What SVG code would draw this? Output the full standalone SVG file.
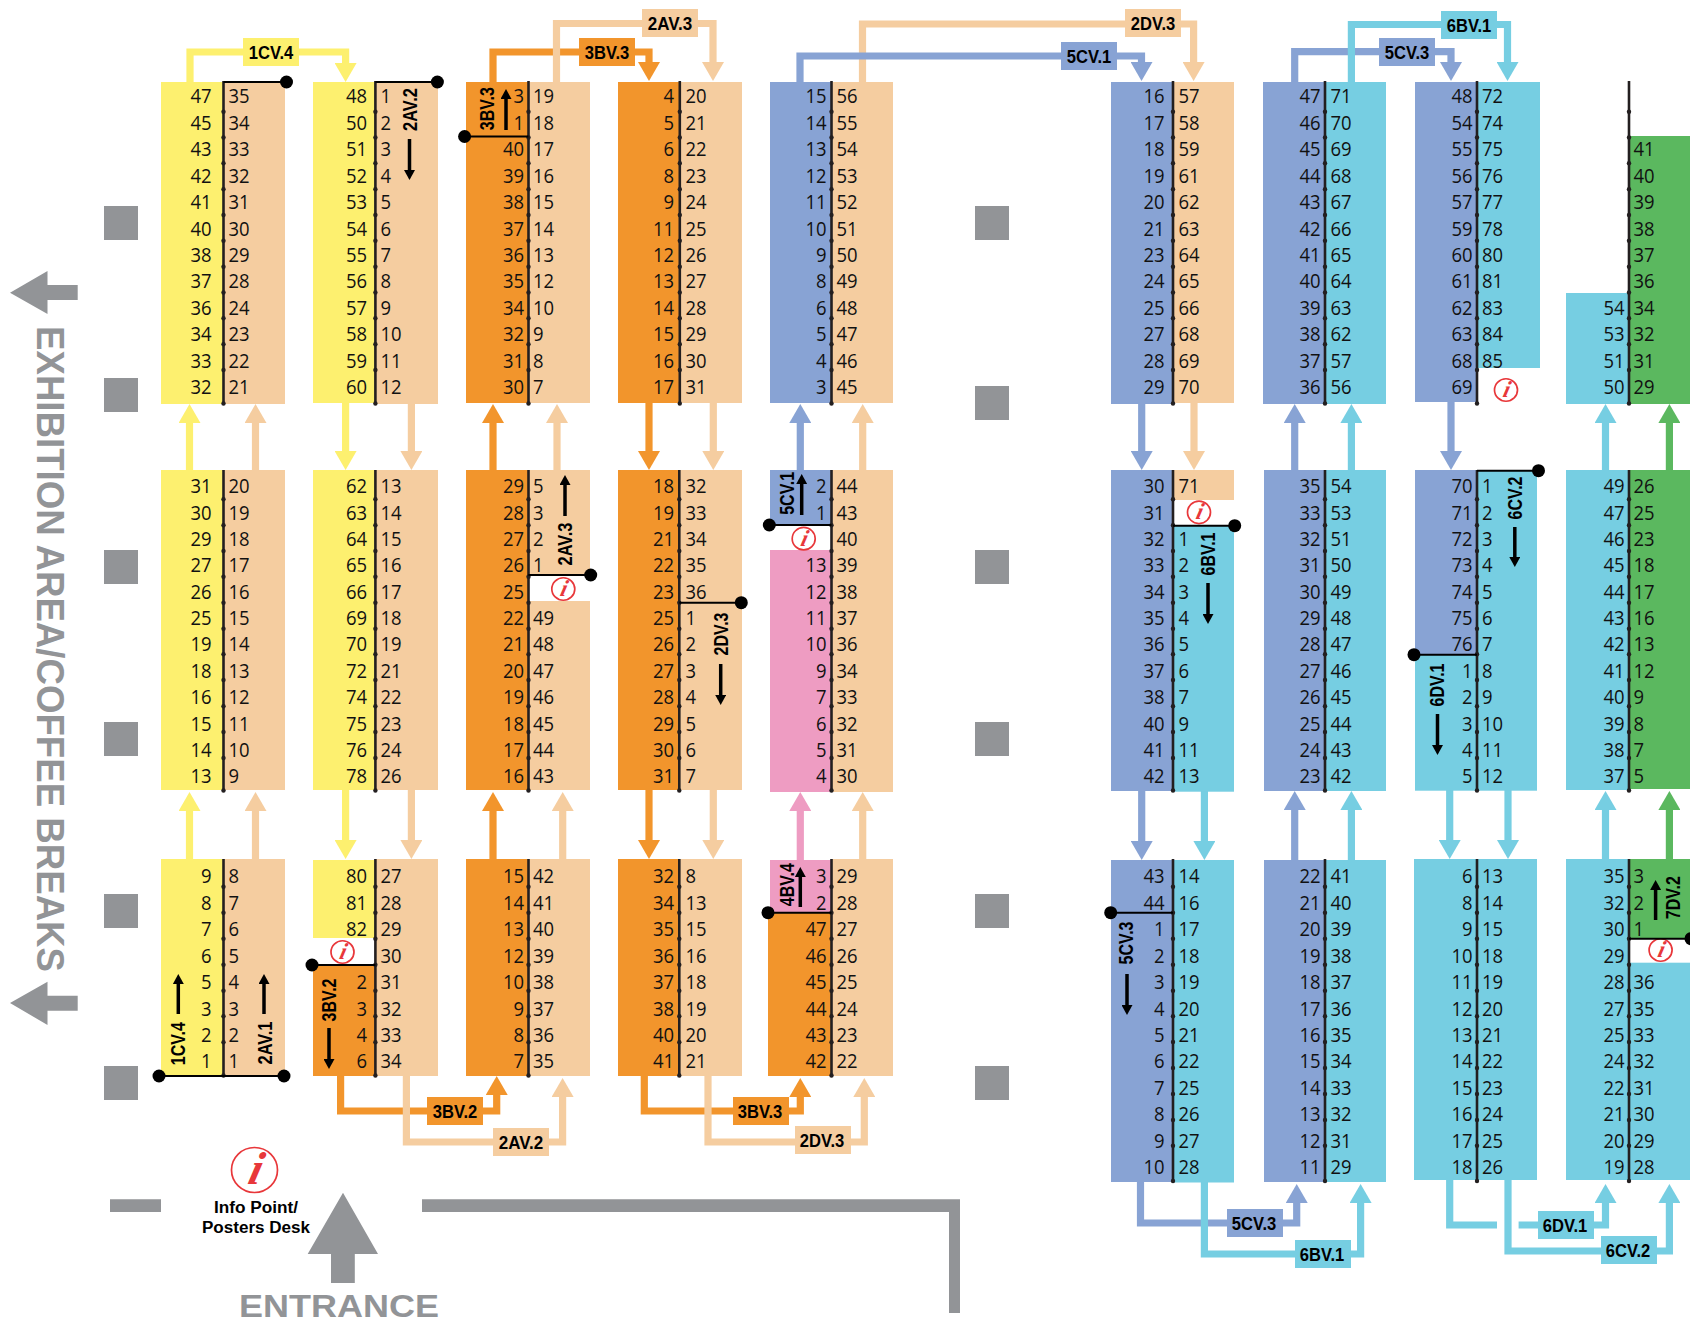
<svg xmlns="http://www.w3.org/2000/svg" width="1690" height="1324" viewBox="0 0 1690 1324">
<style>
.y{fill:#fdf06f}.p{fill:#f5cda0}.o{fill:#f2952c}.b{fill:#88a3d4}.c{fill:#76cee2}.g{fill:#5bb85f}.k{fill:#ee9cc2}.w{fill:#929497}
.ly,.lp,.lo,.lb,.lc,.lg,.lk{fill:none;stroke-width:7.2}
.ly{stroke:#fdf06f}.lp{stroke:#f5cda0}.lo{stroke:#f2952c}.lb{stroke:#88a3d4}.lc{stroke:#76cee2}.lg{stroke:#5bb85f}.lk{stroke:#ee9cc2}
.d{stroke:#231f20;stroke-width:2.6;fill:none}
.tk{fill:#231f20}
.h{stroke:#000;stroke-width:2;fill:none}
.ba{stroke:#000;stroke-width:3.5;fill:none;marker-end:url(#ma)}
.l text,.r text{font-family:"Open Sans","Noto Sans",sans-serif;font-size:20.5px;fill:#111}
.l text{text-anchor:end}
.bt{font-family:"Liberation Sans",Arial,sans-serif;font-weight:700;font-size:18.5px;fill:#000;text-anchor:middle}
.rt{font-family:"Liberation Sans",Arial,sans-serif;font-weight:700;font-size:20.5px;fill:#000;text-anchor:middle}
.ring{fill:#fff;stroke:#e8373a;stroke-width:1.7;vector-effect:non-scaling-stroke}
.ii{font-family:"Liberation Serif",serif;font-weight:700;font-style:italic;font-size:46px;fill:#e8373a;text-anchor:middle}
</style>
<defs>
<marker id="my" markerUnits="userSpaceOnUse" markerWidth="20" markerHeight="22" refX="0" refY="11" orient="auto"><path d="M0 0L19 11L0 22z" class="y"/></marker>
<marker id="mp" markerUnits="userSpaceOnUse" markerWidth="20" markerHeight="22" refX="0" refY="11" orient="auto"><path d="M0 0L19 11L0 22z" class="p"/></marker>
<marker id="mo" markerUnits="userSpaceOnUse" markerWidth="20" markerHeight="22" refX="0" refY="11" orient="auto"><path d="M0 0L19 11L0 22z" class="o"/></marker>
<marker id="mb" markerUnits="userSpaceOnUse" markerWidth="20" markerHeight="22" refX="0" refY="11" orient="auto"><path d="M0 0L19 11L0 22z" class="b"/></marker>
<marker id="mc" markerUnits="userSpaceOnUse" markerWidth="20" markerHeight="22" refX="0" refY="11" orient="auto"><path d="M0 0L19 11L0 22z" class="c"/></marker>
<marker id="mg" markerUnits="userSpaceOnUse" markerWidth="20" markerHeight="22" refX="0" refY="11" orient="auto"><path d="M0 0L19 11L0 22z" class="g"/></marker>
<marker id="mk" markerUnits="userSpaceOnUse" markerWidth="20" markerHeight="22" refX="0" refY="11" orient="auto"><path d="M0 0L19 11L0 22z" class="k"/></marker>
<marker id="ma" markerUnits="userSpaceOnUse" markerWidth="11" markerHeight="11" refX="0" refY="5.5" orient="auto"><path d="M0 0L10 5.5L0 11z"/></marker>
<g id="tT" class="tk"><circle cy="111.7" r="2.2"/><circle cy="137.5" r="2.2"/><circle cy="163.3" r="2.2"/><circle cy="189.2" r="2.2"/><circle cy="215" r="2.2"/><circle cy="240.8" r="2.2"/><circle cy="266.7" r="2.2"/><circle cy="292.5" r="2.2"/><circle cy="318.3" r="2.2"/><circle cy="344.2" r="2.2"/><circle cy="370" r="2.2"/><circle cy="403.5" r="2.2"/></g>
<g id="tM" class="tk"><circle cy="499.3" r="2.2"/><circle cy="525.3" r="2.2"/><circle cy="551" r="2.2"/><circle cy="576.7" r="2.2"/><circle cy="602.7" r="2.2"/><circle cy="628.7" r="2.2"/><circle cy="654.3" r="2.2"/><circle cy="680" r="2.2"/><circle cy="706.3" r="2.2"/><circle cy="732" r="2.2"/><circle cy="758" r="2.2"/><circle cy="790.5" r="2.2"/></g>
<g id="tB" class="tk"><circle cy="886.7" r="2.2"/><circle cy="912.7" r="2.2"/><circle cy="938.7" r="2.2"/><circle cy="964.7" r="2.2"/><circle cy="990.7" r="2.2"/><circle cy="1016.3" r="2.2"/><circle cy="1042.3" r="2.2"/><circle cy="1075.5" r="2.2"/></g>
<g id="tL" class="tk"><circle cy="886.7" r="2.2"/><circle cy="912.7" r="2.2"/><circle cy="938.7" r="2.2"/><circle cy="964.7" r="2.2"/><circle cy="990.7" r="2.2"/><circle cy="1016.3" r="2.2"/><circle cy="1042" r="2.2"/><circle cy="1068" r="2.2"/><circle cy="1094" r="2.2"/><circle cy="1120" r="2.2"/><circle cy="1145.7" r="2.2"/><circle cy="1181" r="2.2"/></g>
<g id="info"><ellipse class="ring" rx="23" ry="22.5"/><text class="ii" transform="skewX(-14)" x="2" y="14">i</text></g>
</defs>
<rect width="1690" height="1324" fill="#fff"/>

<g id="site">
<path class="w" d="M104 206h34v34h-34zM104 378h34v34h-34zM104 550h34v34h-34zM104 722h34v34h-34zM104 894h34v34h-34zM104 1066h34v34h-34z"/>
<path class="w" d="M975 206h34v34h-34zM975 386h34v34h-34zM975 550h34v34h-34zM975 722h34v34h-34zM975 894h34v34h-34zM975 1066h34v34h-34z"/>
<path class="w" d="M10 292.7L47.5 271V285H77.7V300H47.5V314zM10 1003L47.5 981.7V995.7H77.7V1010.7H47.5V1025z"/>
<path class="w" d="M343 1192.7L378 1254H354.8V1283H331V1254H307.7z"/>
<path class="w" d="M110 1199.3H161V1212H110zM422 1199.3H960V1313H949V1212H422z"/>
<text transform="translate(37,326) rotate(90)" textLength="646" lengthAdjust="spacingAndGlyphs" font-family="Liberation Sans, Arial, sans-serif" font-weight="700" font-size="38" fill="#929497">EXHIBITION AREA/COFFEE BREAKS</text>
<text x="239" y="1317" textLength="200" lengthAdjust="spacingAndGlyphs" font-family="Liberation Sans, Arial, sans-serif" font-weight="700" font-size="31" fill="#929497">ENTRANCE</text>
<use href="#info" x="254.5" y="1170"/>
<text x="256" y="1213" text-anchor="middle" textLength="84" lengthAdjust="spacingAndGlyphs" font-family="Liberation Sans, Arial, sans-serif" font-weight="700" font-size="16" fill="#000">Info Point/</text>
<text x="256" y="1233" text-anchor="middle" textLength="108" lengthAdjust="spacingAndGlyphs" font-family="Liberation Sans, Arial, sans-serif" font-weight="700" font-size="16" fill="#000">Posters Desk</text>
</g>

<g id="connectors">
<path class="ly" d="M190 82V52H345.6V63" marker-end="url(#my)"/>
<path class="lo" d="M493 82V52H649V62" marker-end="url(#mo)"/>
<path class="lp" d="M556.5 82V23.5H713V62" marker-end="url(#mp)"/>
<path class="lp" d="M862.5 82V24H1193.6V62" marker-end="url(#mp)"/>
<path class="lb" d="M800 82V56H1141.5V62" marker-end="url(#mb)"/>
<path class="lb" d="M1294.7 82V51.7H1451V62" marker-end="url(#mb)"/>
<path class="lc" d="M1351.4 82V24.5H1507.5V62" marker-end="url(#mc)"/>

<path class="ly" d="M189.5 470V423" marker-end="url(#my)"/><path class="lp" d="M255.5 470V423" marker-end="url(#mp)"/>
<path class="ly" d="M189.5 859V811" marker-end="url(#my)"/><path class="lp" d="M255.5 859V811" marker-end="url(#mp)"/>
<path class="ly" d="M345.6 403V451" marker-end="url(#my)"/><path class="lp" d="M411.4 403V451" marker-end="url(#mp)"/>
<path class="ly" d="M345.6 790V840" marker-end="url(#my)"/><path class="lp" d="M411.4 790V840" marker-end="url(#mp)"/>
<path class="lo" d="M493 470V423" marker-end="url(#mo)"/><path class="lp" d="M557 470V423" marker-end="url(#mp)"/>
<path class="lo" d="M493 859V811" marker-end="url(#mo)"/><path class="lp" d="M562.7 859V811" marker-end="url(#mp)"/>
<path class="lo" d="M649 403V451" marker-end="url(#mo)"/><path class="lp" d="M713.3 403V451" marker-end="url(#mp)"/>
<path class="lo" d="M649 790V840" marker-end="url(#mo)"/><path class="lp" d="M713.3 790V840" marker-end="url(#mp)"/>
<path class="lb" d="M800.3 470V423" marker-end="url(#mb)"/><path class="lp" d="M862.7 470V423" marker-end="url(#mp)"/>
<path class="lk" d="M800.3 860V811" marker-end="url(#mk)"/><path class="lp" d="M862.7 860V811" marker-end="url(#mp)"/>
<path class="lb" d="M1141.7 403V451" marker-end="url(#mb)"/><path class="lp" d="M1194 403V451" marker-end="url(#mp)"/>
<path class="lb" d="M1141.7 790V841" marker-end="url(#mb)"/><path class="lc" d="M1204.4 790V841" marker-end="url(#mc)"/>
<path class="lb" d="M1294.7 470V423" marker-end="url(#mb)"/><path class="lc" d="M1351.4 470V423" marker-end="url(#mc)"/>
<path class="lb" d="M1294.7 860V810" marker-end="url(#mb)"/><path class="lc" d="M1351.4 860V810" marker-end="url(#mc)"/>
<path class="lb" d="M1451 401V451" marker-end="url(#mb)"/>
<path class="lc" d="M1449.7 790V840" marker-end="url(#mc)"/><path class="lc" d="M1508 790V840" marker-end="url(#mc)"/>
<path class="lc" d="M1605.5 470V423" marker-end="url(#mc)"/><path class="lg" d="M1669.4 470V423" marker-end="url(#mg)"/>
<path class="lc" d="M1605.5 859V810" marker-end="url(#mc)"/><path class="lg" d="M1669.4 859V810" marker-end="url(#mg)"/>

<path class="lo" d="M340.6 1076V1111H496.7V1095" marker-end="url(#mo)"/>
<path class="lp" d="M406.4 1076V1142H562.6V1097" marker-end="url(#mp)"/>
<path class="lo" d="M644.3 1076V1111H800.3V1097" marker-end="url(#mo)"/>
<path class="lp" d="M708 1076V1142H864.3V1097" marker-end="url(#mp)"/>
<path class="lb" d="M1140.5 1182V1223H1296.7V1203" marker-end="url(#mb)"/>
<path class="lc" d="M1204.4 1182V1254H1360.6V1203" marker-end="url(#mc)"/>
<path class="lc" d="M1449.7 1180V1225H1497"/>
<path class="lc" d="M1518.6 1225H1605.5V1203" marker-end="url(#mc)"/>
<path class="lc" d="M1508 1180V1251H1669.4V1203" marker-end="url(#mc)"/>

<rect class="y" x="243" y="38" width="56" height="28"/><text class="bt" x="271" y="58.5" textLength="44.5" lengthAdjust="spacingAndGlyphs">1CV.4</text>
<rect class="o" x="579" y="38" width="56" height="28"/><text class="bt" x="607" y="58.5" textLength="44.5" lengthAdjust="spacingAndGlyphs">3BV.3</text>
<rect class="p" x="642" y="9" width="56" height="28"/><text class="bt" x="670" y="29.5" textLength="44.5" lengthAdjust="spacingAndGlyphs">2AV.3</text>
<rect class="b" x="1061" y="42" width="56" height="28"/><text class="bt" x="1089" y="62.5" textLength="44.5" lengthAdjust="spacingAndGlyphs">5CV.1</text>
<rect class="p" x="1125" y="9" width="56" height="28"/><text class="bt" x="1153" y="29.5" textLength="44.5" lengthAdjust="spacingAndGlyphs">2DV.3</text>
<rect class="b" x="1379" y="38" width="56" height="28"/><text class="bt" x="1407" y="58.5" textLength="44.5" lengthAdjust="spacingAndGlyphs">5CV.3</text>
<rect class="c" x="1441" y="11" width="56" height="28"/><text class="bt" x="1469" y="31.5" textLength="44.5" lengthAdjust="spacingAndGlyphs">6BV.1</text>
<rect class="o" x="427" y="1097" width="56" height="28"/><text class="bt" x="455" y="1117.5" textLength="44.5" lengthAdjust="spacingAndGlyphs">3BV.2</text>
<rect class="p" x="493" y="1128" width="56" height="28"/><text class="bt" x="521" y="1148.5" textLength="44.5" lengthAdjust="spacingAndGlyphs">2AV.2</text>
<rect class="o" x="733" y="1097" width="56" height="28"/><text class="bt" x="760" y="1117.5" textLength="44.5" lengthAdjust="spacingAndGlyphs">3BV.3</text>
<rect class="p" x="795" y="1126" width="56" height="28"/><text class="bt" x="822" y="1146.5" textLength="44.5" lengthAdjust="spacingAndGlyphs">2DV.3</text>
<rect class="b" x="1227" y="1209" width="56" height="28"/><text class="bt" x="1254" y="1229.5" textLength="44.5" lengthAdjust="spacingAndGlyphs">5CV.3</text>
<rect class="c" x="1295" y="1240" width="56" height="28"/><text class="bt" x="1322" y="1260.5" textLength="44.5" lengthAdjust="spacingAndGlyphs">6BV.1</text>
<rect class="c" x="1538" y="1211" width="56" height="28"/><text class="bt" x="1565" y="1231.5" textLength="44.5" lengthAdjust="spacingAndGlyphs">6DV.1</text>
<rect class="c" x="1601" y="1236" width="56" height="28"/><text class="bt" x="1628" y="1256.5" textLength="44.5" lengthAdjust="spacingAndGlyphs">6CV.2</text>
</g>

<g id="c1-top"><rect class="y" x="161" y="82" width="62.5" height="322"/><rect class="p" x="223.5" y="82" width="61.5" height="322"/><path class="d" d="M223.5 81V404"/><use href="#tT" x="223.5"/>
<g class="l" transform="translate(211.5,0) scale(.9,1)"><text y="103">47</text><text y="130">45</text><text y="156">43</text><text y="183">42</text><text y="209">41</text><text y="236">40</text><text y="262">38</text><text y="288">37</text><text y="315">36</text><text y="341">34</text><text y="368">33</text><text y="394">32</text></g>
<g class="r" transform="translate(228.5,0) scale(.9,1)"><text y="103">35</text><text y="130">34</text><text y="156">33</text><text y="183">32</text><text y="209">31</text><text y="236">30</text><text y="262">29</text><text y="288">28</text><text y="315">24</text><text y="341">23</text><text y="368">22</text><text y="394">21</text></g></g>
<g id="c1-mid"><rect class="y" x="161" y="470" width="62.5" height="320"/><rect class="p" x="223.5" y="470" width="61.5" height="320"/><path class="d" d="M223.5 470V791"/><use href="#tM" x="223.5"/>
<g class="l" transform="translate(211.5,0) scale(.9,1)"><text y="493">31</text><text y="520">30</text><text y="546">29</text><text y="572">27</text><text y="599">26</text><text y="625">25</text><text y="651">19</text><text y="678">18</text><text y="704">16</text><text y="731">15</text><text y="757">14</text><text y="783">13</text></g>
<g class="r" transform="translate(228.5,0) scale(.9,1)"><text y="493">20</text><text y="520">19</text><text y="546">18</text><text y="572">17</text><text y="599">16</text><text y="625">15</text><text y="651">14</text><text y="678">13</text><text y="704">12</text><text y="731">11</text><text y="757">10</text><text y="783">9</text></g></g>
<g id="c1-bot"><rect class="y" x="161" y="859" width="62.5" height="217"/><rect class="p" x="223.5" y="859" width="61.5" height="217"/><path class="d" d="M223.5 859V1076"/><use href="#tB" x="223.5"/>
<g class="l" transform="translate(211.5,0) scale(.9,1)"><text y="883">9</text><text y="910">8</text><text y="936">7</text><text y="963">6</text><text y="989">5</text><text y="1016">3</text><text y="1042">2</text><text y="1068">1</text></g>
<g class="r" transform="translate(228.5,0) scale(.9,1)"><text y="883">8</text><text y="910">7</text><text y="936">6</text><text y="963">5</text><text y="989">4</text><text y="1016">3</text><text y="1042">2</text><text y="1068">1</text></g></g>

<g id="c2-top"><rect class="y" x="313" y="82" width="62.4" height="321"/><rect class="p" x="375.4" y="82" width="62.6" height="322"/><path class="d" d="M375.4 81V404"/><use href="#tT" x="375.4"/>
<g class="l" transform="translate(367,0) scale(.9,1)"><text y="103">48</text><text y="130">50</text><text y="156">51</text><text y="183">52</text><text y="209">53</text><text y="236">54</text><text y="262">55</text><text y="288">56</text><text y="315">57</text><text y="341">58</text><text y="368">59</text><text y="394">60</text></g>
<g class="r" transform="translate(380.4,0) scale(.9,1)"><text y="103">1</text><text y="130">2</text><text y="156">3</text><text y="183">4</text><text y="209">5</text><text y="236">6</text><text y="262">7</text><text y="288">8</text><text y="315">9</text><text y="341">10</text><text y="368">11</text><text y="394">12</text></g></g>
<g id="c2-mid"><rect class="y" x="313" y="470" width="62.4" height="320"/><rect class="p" x="375.4" y="470" width="62.6" height="320"/><path class="d" d="M375.4 470V791"/><use href="#tM" x="375.4"/>
<g class="l" transform="translate(367,0) scale(.9,1)"><text y="493">62</text><text y="520">63</text><text y="546">64</text><text y="572">65</text><text y="599">66</text><text y="625">69</text><text y="651">70</text><text y="678">72</text><text y="704">74</text><text y="731">75</text><text y="757">76</text><text y="783">78</text></g>
<g class="r" transform="translate(380.4,0) scale(.9,1)"><text y="493">13</text><text y="520">14</text><text y="546">15</text><text y="572">16</text><text y="599">17</text><text y="625">18</text><text y="651">19</text><text y="678">21</text><text y="704">22</text><text y="731">23</text><text y="757">24</text><text y="783">26</text></g></g>
<g id="c2-bot"><rect class="y" x="313" y="860" width="62.4" height="78"/><rect class="o" x="313" y="965" width="62.4" height="111"/><rect class="p" x="375.4" y="859" width="62.6" height="217"/><path class="d" d="M375.4 859V1076"/><use href="#tB" x="375.4"/>
<g class="l" transform="translate(367,0) scale(.9,1)"><text y="883">80</text><text y="910">81</text><text y="936">82</text><text y="989">2</text><text y="1016">3</text><text y="1042">4</text><text y="1068">6</text></g>
<g class="r" transform="translate(380.4,0) scale(.9,1)"><text y="883">27</text><text y="910">28</text><text y="936">29</text><text y="963">30</text><text y="989">31</text><text y="1016">32</text><text y="1042">33</text><text y="1068">34</text></g>
<use href="#info" transform="translate(342.5,952) scale(.5)"/></g>

<g id="c3-top"><rect class="o" x="466" y="82" width="62.5" height="321"/><rect class="p" x="528.5" y="82" width="61.5" height="321"/><path class="d" d="M528.5 81V403"/><use href="#tT" x="528.5"/>
<g class="l" transform="translate(524,0) scale(.9,1)"><text y="103">3</text><text y="130">1</text><text y="156">40</text><text y="183">39</text><text y="209">38</text><text y="236">37</text><text y="262">36</text><text y="288">35</text><text y="315">34</text><text y="341">32</text><text y="368">31</text><text y="394">30</text></g>
<g class="r" transform="translate(533,0) scale(.9,1)"><text y="103">19</text><text y="130">18</text><text y="156">17</text><text y="183">16</text><text y="209">15</text><text y="236">14</text><text y="262">13</text><text y="288">12</text><text y="315">10</text><text y="341">9</text><text y="368">8</text><text y="394">7</text></g></g>
<g id="c3-mid"><rect class="o" x="466" y="470" width="62.5" height="320"/><rect class="p" x="528.5" y="470" width="61.5" height="105"/><rect class="p" x="528.5" y="601" width="61.5" height="189"/><path class="d" d="M528.5 470V791"/><use href="#tM" x="528.5"/>
<g class="l" transform="translate(524,0) scale(.9,1)"><text y="493">29</text><text y="520">28</text><text y="546">27</text><text y="572">26</text><text y="599">25</text><text y="625">22</text><text y="651">21</text><text y="678">20</text><text y="704">19</text><text y="731">18</text><text y="757">17</text><text y="783">16</text></g>
<g class="r" transform="translate(533,0) scale(.9,1)"><text y="493">5</text><text y="520">3</text><text y="546">2</text><text y="572">1</text><text y="625">49</text><text y="651">48</text><text y="678">47</text><text y="704">46</text><text y="731">45</text><text y="757">44</text><text y="783">43</text></g>
<use href="#info" transform="translate(563.3,589) scale(.5)"/></g>
<g id="c3-bot"><rect class="o" x="466" y="859" width="62.5" height="217"/><rect class="p" x="528.5" y="859" width="61.5" height="217"/><path class="d" d="M528.5 859V1076"/><use href="#tB" x="528.5"/>
<g class="l" transform="translate(524,0) scale(.9,1)"><text y="883">15</text><text y="910">14</text><text y="936">13</text><text y="963">12</text><text y="989">10</text><text y="1016">9</text><text y="1042">8</text><text y="1068">7</text></g>
<g class="r" transform="translate(533,0) scale(.9,1)"><text y="883">42</text><text y="910">41</text><text y="936">40</text><text y="963">39</text><text y="989">38</text><text y="1016">37</text><text y="1042">36</text><text y="1068">35</text></g></g>

<g id="c4-top"><rect class="o" x="618" y="82" width="61.3" height="321"/><rect class="p" x="679.3" y="82" width="62.7" height="321"/><path class="d" d="M679.8 81V403"/><use href="#tT" x="679.8"/>
<g class="l" transform="translate(674,0) scale(.9,1)"><text y="103">4</text><text y="130">5</text><text y="156">6</text><text y="183">8</text><text y="209">9</text><text y="236">11</text><text y="262">12</text><text y="288">13</text><text y="315">14</text><text y="341">15</text><text y="368">16</text><text y="394">17</text></g>
<g class="r" transform="translate(685.5,0) scale(.9,1)"><text y="103">20</text><text y="130">21</text><text y="156">22</text><text y="183">23</text><text y="209">24</text><text y="236">25</text><text y="262">26</text><text y="288">27</text><text y="315">28</text><text y="341">29</text><text y="368">30</text><text y="394">31</text></g></g>
<g id="c4-mid"><rect class="o" x="618" y="470" width="61.3" height="320"/><rect class="p" x="679.3" y="470" width="62.7" height="320"/><path class="d" d="M679.3 470V791"/><use href="#tM" x="679.3"/>
<g class="l" transform="translate(674,0) scale(.9,1)"><text y="493">18</text><text y="520">19</text><text y="546">21</text><text y="572">22</text><text y="599">23</text><text y="625">25</text><text y="651">26</text><text y="678">27</text><text y="704">28</text><text y="731">29</text><text y="757">30</text><text y="783">31</text></g>
<g class="r" transform="translate(685.5,0) scale(.9,1)"><text y="493">32</text><text y="520">33</text><text y="546">34</text><text y="572">35</text><text y="599">36</text><text y="625">1</text><text y="651">2</text><text y="678">3</text><text y="704">4</text><text y="731">5</text><text y="757">6</text><text y="783">7</text></g></g>
<g id="c4-bot"><rect class="o" x="618" y="859" width="61.3" height="217"/><rect class="p" x="679.3" y="859" width="62.7" height="217"/><path class="d" d="M679.3 859V1076"/><use href="#tB" x="679.3"/>
<g class="l" transform="translate(674,0) scale(.9,1)"><text y="883">32</text><text y="910">34</text><text y="936">35</text><text y="963">36</text><text y="989">37</text><text y="1016">38</text><text y="1042">40</text><text y="1068">41</text></g>
<g class="r" transform="translate(685.5,0) scale(.9,1)"><text y="883">8</text><text y="910">13</text><text y="936">15</text><text y="963">16</text><text y="989">18</text><text y="1016">19</text><text y="1042">20</text><text y="1068">21</text></g></g>

<g id="c5-top"><rect class="b" x="770" y="82" width="61.5" height="321"/><rect class="p" x="831.5" y="82" width="61.5" height="321"/><path class="d" d="M831.5 81V403"/><use href="#tT" x="831.5"/>
<g class="l" transform="translate(826.5,0) scale(.9,1)"><text y="103">15</text><text y="130">14</text><text y="156">13</text><text y="183">12</text><text y="209">11</text><text y="236">10</text><text y="262">9</text><text y="288">8</text><text y="315">6</text><text y="341">5</text><text y="368">4</text><text y="394">3</text></g>
<g class="r" transform="translate(836.5,0) scale(.9,1)"><text y="103">56</text><text y="130">55</text><text y="156">54</text><text y="183">53</text><text y="209">52</text><text y="236">51</text><text y="262">50</text><text y="288">49</text><text y="315">48</text><text y="341">47</text><text y="368">46</text><text y="394">45</text></g></g>
<g id="c5-mid"><rect class="b" x="770" y="470" width="61.5" height="55"/><rect class="k" x="770" y="550" width="61.5" height="242"/><rect class="p" x="831.5" y="470" width="61.5" height="322"/><path class="d" d="M831.5 470V792"/><use href="#tM" x="831.5"/>
<g class="l" transform="translate(826.5,0) scale(.9,1)"><text y="493">2</text><text y="520">1</text><text y="572">13</text><text y="599">12</text><text y="625">11</text><text y="651">10</text><text y="678">9</text><text y="704">7</text><text y="731">6</text><text y="757">5</text><text y="783">4</text></g>
<g class="r" transform="translate(836.5,0) scale(.9,1)"><text y="493">44</text><text y="520">43</text><text y="546">40</text><text y="572">39</text><text y="599">38</text><text y="625">37</text><text y="651">36</text><text y="678">34</text><text y="704">33</text><text y="731">32</text><text y="757">31</text><text y="783">30</text></g>
<use href="#info" transform="translate(803.7,538.7) scale(.5)"/></g>
<g id="c5-bot"><rect class="k" x="770" y="860" width="61.5" height="53"/><rect class="o" x="768" y="912.7" width="63.5" height="163.3"/><rect class="p" x="831.5" y="859" width="61.5" height="217"/><path class="d" d="M831.5 859V1076"/><use href="#tB" x="831.5"/>
<g class="l" transform="translate(826.5,0) scale(.9,1)"><text y="883">3</text><text y="910">2</text><text y="936">47</text><text y="963">46</text><text y="989">45</text><text y="1016">44</text><text y="1042">43</text><text y="1068">42</text></g>
<g class="r" transform="translate(836.5,0) scale(.9,1)"><text y="883">29</text><text y="910">28</text><text y="936">27</text><text y="963">26</text><text y="989">25</text><text y="1016">24</text><text y="1042">23</text><text y="1068">22</text></g></g>

<g id="c6-top"><rect class="b" x="1111" y="82" width="62" height="322"/><rect class="p" x="1173" y="82" width="61" height="321"/><path class="d" d="M1173 81V404"/><use href="#tT" x="1173"/>
<g class="l" transform="translate(1164.5,0) scale(.9,1)"><text y="103">16</text><text y="130">17</text><text y="156">18</text><text y="183">19</text><text y="209">20</text><text y="236">21</text><text y="262">23</text><text y="288">24</text><text y="315">25</text><text y="341">27</text><text y="368">28</text><text y="394">29</text></g>
<g class="r" transform="translate(1178.5,0) scale(.9,1)"><text y="103">57</text><text y="130">58</text><text y="156">59</text><text y="183">61</text><text y="209">62</text><text y="236">63</text><text y="262">64</text><text y="288">65</text><text y="315">66</text><text y="341">68</text><text y="368">69</text><text y="394">70</text></g></g>
<g id="c6-mid"><rect class="b" x="1111" y="470" width="62" height="321"/><rect class="p" x="1173" y="470" width="61" height="30"/><rect class="c" x="1173" y="525.7" width="61" height="266"/><path class="d" d="M1173 470V791"/><use href="#tM" x="1173"/>
<g class="l" transform="translate(1164.5,0) scale(.9,1)"><text y="493">30</text><text y="520">31</text><text y="546">32</text><text y="572">33</text><text y="599">34</text><text y="625">35</text><text y="651">36</text><text y="678">37</text><text y="704">38</text><text y="731">40</text><text y="757">41</text><text y="783">42</text></g>
<g class="r" transform="translate(1178.5,0) scale(.9,1)"><text y="493">71</text><text y="546">1</text><text y="572">2</text><text y="599">3</text><text y="625">4</text><text y="651">5</text><text y="678">6</text><text y="704">7</text><text y="731">9</text><text y="757">11</text><text y="783">13</text></g>
<use href="#info" transform="translate(1199,512.3) scale(.5)"/></g>
<g id="c6-bot"><rect class="b" x="1111" y="860" width="62" height="322"/><rect class="c" x="1173" y="860" width="61" height="322.5"/><path class="d" d="M1173 859V1181"/><use href="#tL" x="1173"/>
<g class="l" transform="translate(1164.5,0) scale(.9,1)"><text y="883">43</text><text y="910">44</text><text y="936">1</text><text y="963">2</text><text y="989">3</text><text y="1016">4</text><text y="1042">5</text><text y="1068">6</text><text y="1095">7</text><text y="1121">8</text><text y="1148">9</text><text y="1174">10</text></g>
<g class="r" transform="translate(1178.5,0) scale(.9,1)"><text y="883">14</text><text y="910">16</text><text y="936">17</text><text y="963">18</text><text y="989">19</text><text y="1016">20</text><text y="1042">21</text><text y="1068">22</text><text y="1095">25</text><text y="1121">26</text><text y="1148">27</text><text y="1174">28</text></g></g>

<g id="c7-top"><rect class="b" x="1263" y="82" width="62" height="322"/><rect class="c" x="1325" y="82" width="61" height="322"/><path class="d" d="M1325 81V404"/><use href="#tT" x="1325"/>
<g class="l" transform="translate(1320.5,0) scale(.9,1)"><text y="103">47</text><text y="130">46</text><text y="156">45</text><text y="183">44</text><text y="209">43</text><text y="236">42</text><text y="262">41</text><text y="288">40</text><text y="315">39</text><text y="341">38</text><text y="368">37</text><text y="394">36</text></g>
<g class="r" transform="translate(1330.5,0) scale(.9,1)"><text y="103">71</text><text y="130">70</text><text y="156">69</text><text y="183">68</text><text y="209">67</text><text y="236">66</text><text y="262">65</text><text y="288">64</text><text y="315">63</text><text y="341">62</text><text y="368">57</text><text y="394">56</text></g></g>
<g id="c7-mid"><rect class="b" x="1264" y="470" width="61" height="321"/><rect class="c" x="1325" y="470" width="61" height="321"/><path class="d" d="M1325 470V791"/><use href="#tM" x="1325"/>
<g class="l" transform="translate(1320.5,0) scale(.9,1)"><text y="493">35</text><text y="520">33</text><text y="546">32</text><text y="572">31</text><text y="599">30</text><text y="625">29</text><text y="651">28</text><text y="678">27</text><text y="704">26</text><text y="731">25</text><text y="757">24</text><text y="783">23</text></g>
<g class="r" transform="translate(1330.5,0) scale(.9,1)"><text y="493">54</text><text y="520">53</text><text y="546">51</text><text y="572">50</text><text y="599">49</text><text y="625">48</text><text y="651">47</text><text y="678">46</text><text y="704">45</text><text y="731">44</text><text y="757">43</text><text y="783">42</text></g></g>
<g id="c7-bot"><rect class="b" x="1264" y="860" width="61" height="322"/><rect class="c" x="1325" y="860" width="61" height="322"/><path class="d" d="M1325 859V1181"/><use href="#tL" x="1325"/>
<g class="l" transform="translate(1320.5,0) scale(.9,1)"><text y="883">22</text><text y="910">21</text><text y="936">20</text><text y="963">19</text><text y="989">18</text><text y="1016">17</text><text y="1042">16</text><text y="1068">15</text><text y="1095">14</text><text y="1121">13</text><text y="1148">12</text><text y="1174">11</text></g>
<g class="r" transform="translate(1330.5,0) scale(.9,1)"><text y="883">41</text><text y="910">40</text><text y="936">39</text><text y="963">38</text><text y="989">37</text><text y="1016">36</text><text y="1042">35</text><text y="1068">34</text><text y="1095">33</text><text y="1121">32</text><text y="1148">31</text><text y="1174">29</text></g></g>

<g id="c8-top"><rect class="b" x="1415" y="82" width="62" height="320"/><rect class="c" x="1477" y="82" width="63" height="286"/><path class="d" d="M1477 81V403"/><use href="#tT" x="1477"/>
<g class="l" transform="translate(1472.5,0) scale(.9,1)"><text y="103">48</text><text y="130">54</text><text y="156">55</text><text y="183">56</text><text y="209">57</text><text y="236">59</text><text y="262">60</text><text y="288">61</text><text y="315">62</text><text y="341">63</text><text y="368">68</text><text y="394">69</text></g>
<g class="r" transform="translate(1482,0) scale(.9,1)"><text y="103">72</text><text y="130">74</text><text y="156">75</text><text y="183">76</text><text y="209">77</text><text y="236">78</text><text y="262">80</text><text y="288">81</text><text y="315">83</text><text y="341">84</text><text y="368">85</text></g>
<use href="#info" transform="translate(1506,390) scale(.5)"/></g>
<g id="c8-mid"><rect class="b" x="1415" y="470" width="62" height="185"/><rect class="c" x="1415" y="654.7" width="62" height="136"/><rect class="c" x="1477" y="470.7" width="60" height="320"/><path class="d" d="M1477 470V791"/><use href="#tM" x="1477"/>
<g class="l" transform="translate(1472.5,0) scale(.9,1)"><text y="493">70</text><text y="520">71</text><text y="546">72</text><text y="572">73</text><text y="599">74</text><text y="625">75</text><text y="651">76</text><text y="678">1</text><text y="704">2</text><text y="731">3</text><text y="757">4</text><text y="783">5</text></g>
<g class="r" transform="translate(1482,0) scale(.9,1)"><text y="493">1</text><text y="520">2</text><text y="546">3</text><text y="572">4</text><text y="599">5</text><text y="625">6</text><text y="651">7</text><text y="678">8</text><text y="704">9</text><text y="731">10</text><text y="757">11</text><text y="783">12</text></g></g>
<g id="c8-bot"><rect class="c" x="1414" y="859" width="123" height="321"/><path class="d" d="M1477 859V1181"/><use href="#tL" x="1477"/>
<g class="l" transform="translate(1472.5,0) scale(.9,1)"><text y="883">6</text><text y="910">8</text><text y="936">9</text><text y="963">10</text><text y="989">11</text><text y="1016">12</text><text y="1042">13</text><text y="1068">14</text><text y="1095">15</text><text y="1121">16</text><text y="1148">17</text><text y="1174">18</text></g>
<g class="r" transform="translate(1482,0) scale(.9,1)"><text y="883">13</text><text y="910">14</text><text y="936">15</text><text y="963">18</text><text y="989">19</text><text y="1016">20</text><text y="1042">21</text><text y="1068">22</text><text y="1095">23</text><text y="1121">24</text><text y="1148">25</text><text y="1174">26</text></g></g>

<g id="c9-top"><rect class="c" x="1566" y="293" width="63" height="111"/><rect class="g" x="1629" y="136" width="61" height="268"/><path class="d" d="M1629 81V404"/><use href="#tT" x="1629"/>
<g class="l" transform="translate(1624.5,0) scale(.9,1)"><text y="315">54</text><text y="341">53</text><text y="368">51</text><text y="394">50</text></g>
<g class="r" transform="translate(1633.5,0) scale(.9,1)"><text y="156">41</text><text y="183">40</text><text y="209">39</text><text y="236">38</text><text y="262">37</text><text y="288">36</text><text y="315">34</text><text y="341">32</text><text y="368">31</text><text y="394">29</text></g></g>
<g id="c9-mid"><rect class="c" x="1566" y="470" width="63" height="320"/><rect class="g" x="1629" y="470" width="61" height="319"/><path class="d" d="M1629 470V791"/><use href="#tM" x="1629"/>
<g class="l" transform="translate(1624.5,0) scale(.9,1)"><text y="493">49</text><text y="520">47</text><text y="546">46</text><text y="572">45</text><text y="599">44</text><text y="625">43</text><text y="651">42</text><text y="678">41</text><text y="704">40</text><text y="731">39</text><text y="757">38</text><text y="783">37</text></g>
<g class="r" transform="translate(1633.5,0) scale(.9,1)"><text y="493">26</text><text y="520">25</text><text y="546">23</text><text y="572">18</text><text y="599">17</text><text y="625">16</text><text y="651">13</text><text y="678">12</text><text y="704">9</text><text y="731">8</text><text y="757">7</text><text y="783">5</text></g></g>
<g id="c9-bot"><rect class="c" x="1566" y="859" width="63" height="321"/><rect class="g" x="1629" y="859" width="61" height="80"/><rect class="c" x="1629" y="962.7" width="61" height="217.3"/><path class="d" d="M1629 859V1181"/><use href="#tL" x="1629"/>
<g class="l" transform="translate(1624.5,0) scale(.9,1)"><text y="883">35</text><text y="910">32</text><text y="936">30</text><text y="963">29</text><text y="989">28</text><text y="1016">27</text><text y="1042">25</text><text y="1068">24</text><text y="1095">22</text><text y="1121">21</text><text y="1148">20</text><text y="1174">19</text></g>
<g class="r" transform="translate(1633.5,0) scale(.9,1)"><text y="883">3</text><text y="910">2</text><text y="936">1</text><text y="989">36</text><text y="1016">35</text><text y="1042">33</text><text y="1068">32</text><text y="1095">31</text><text y="1121">30</text><text y="1148">29</text><text y="1174">28</text></g>
<use href="#info" transform="translate(1660.6,950) scale(.5)"/></g>

<g id="route-starts">
<path class="h" d="M223.5 82H286.5M375.4 82H437.4M464.6 136.5H528.4M159 1076H284M312 965H375.4M528.3 575H590.7M679.3 602.7H741.3M769.3 525H831.5M1173 525.7H1234.7M1110.7 912.7H1173M768 912.7H831.5M1477 470.7H1538.5M1414 654.7H1477M1629 938.7H1690"/>
<g><circle cx="286.5" cy="82" r="6.5"/><circle cx="437.4" cy="82" r="6.5"/><circle cx="464.6" cy="136.5" r="6.5"/><circle cx="159" cy="1076" r="6.5"/><circle cx="284" cy="1076" r="6.5"/><circle cx="312" cy="965" r="6.5"/><circle cx="590.7" cy="575" r="6.5"/><circle cx="741.3" cy="602.7" r="6.5"/><circle cx="769.3" cy="525" r="6.5"/><circle cx="1234.7" cy="525.7" r="6.5"/><circle cx="1110.7" cy="912.7" r="6.5"/><circle cx="768" cy="912.7" r="6.5"/><circle cx="1538.5" cy="470.7" r="6.5"/><circle cx="1414" cy="654.7" r="6.5"/><circle cx="1691" cy="938.7" r="6.5"/></g>
<path class="ba" d="M506 130V99"/><path class="ba" d="M409.5 139V170"/><path class="ba" d="M178.3 1014V984"/><path class="ba" d="M264 1014V984"/><path class="ba" d="M329 1028V1059"/><path class="ba" d="M565 516V485"/><path class="ba" d="M720.7 664V695"/><path class="ba" d="M801.7 515V484"/><path class="ba" d="M800.3 907V877"/><path class="ba" d="M1208 583V614"/><path class="ba" d="M1127 974V1005"/><path class="ba" d="M1514.8 527V557"/><path class="ba" d="M1437.5 714V745"/><path class="ba" d="M1655.6 920V890"/>
<text class="rt" transform="translate(493.8,108.7) rotate(-90)" textLength="43" lengthAdjust="spacingAndGlyphs">3BV.3</text>
<text class="rt" transform="translate(417,109.5) rotate(-90)" textLength="43" lengthAdjust="spacingAndGlyphs">2AV.2</text>
<text class="rt" transform="translate(185,1043.7) rotate(-90)" textLength="43" lengthAdjust="spacingAndGlyphs">1CV.4</text>
<text class="rt" transform="translate(271.8,1043) rotate(-90)" textLength="43" lengthAdjust="spacingAndGlyphs">2AV.1</text>
<text class="rt" transform="translate(336,1000) rotate(-90)" textLength="43" lengthAdjust="spacingAndGlyphs">3BV.2</text>
<text class="rt" transform="translate(572,544) rotate(-90)" textLength="43" lengthAdjust="spacingAndGlyphs">2AV.3</text>
<text class="rt" transform="translate(727.7,634) rotate(-90)" textLength="43" lengthAdjust="spacingAndGlyphs">2DV.3</text>
<text class="rt" transform="translate(793.7,493.3) rotate(-90)" textLength="43" lengthAdjust="spacingAndGlyphs">5CV.1</text>
<text class="rt" transform="translate(793.7,884.7) rotate(-90)" textLength="43" lengthAdjust="spacingAndGlyphs">4BV.4</text>
<text class="rt" transform="translate(1215.3,554) rotate(-90)" textLength="43" lengthAdjust="spacingAndGlyphs">6BV.1</text>
<text class="rt" transform="translate(1133.4,943) rotate(-90)" textLength="43" lengthAdjust="spacingAndGlyphs">5CV.3</text>
<text class="rt" transform="translate(1521.8,498) rotate(-90)" textLength="43" lengthAdjust="spacingAndGlyphs">6CV.2</text>
<text class="rt" transform="translate(1444,685) rotate(-90)" textLength="43" lengthAdjust="spacingAndGlyphs">6DV.1</text>
<text class="rt" transform="translate(1680,897.7) rotate(-90)" textLength="43" lengthAdjust="spacingAndGlyphs">7DV.2</text>
</g>
</svg>
